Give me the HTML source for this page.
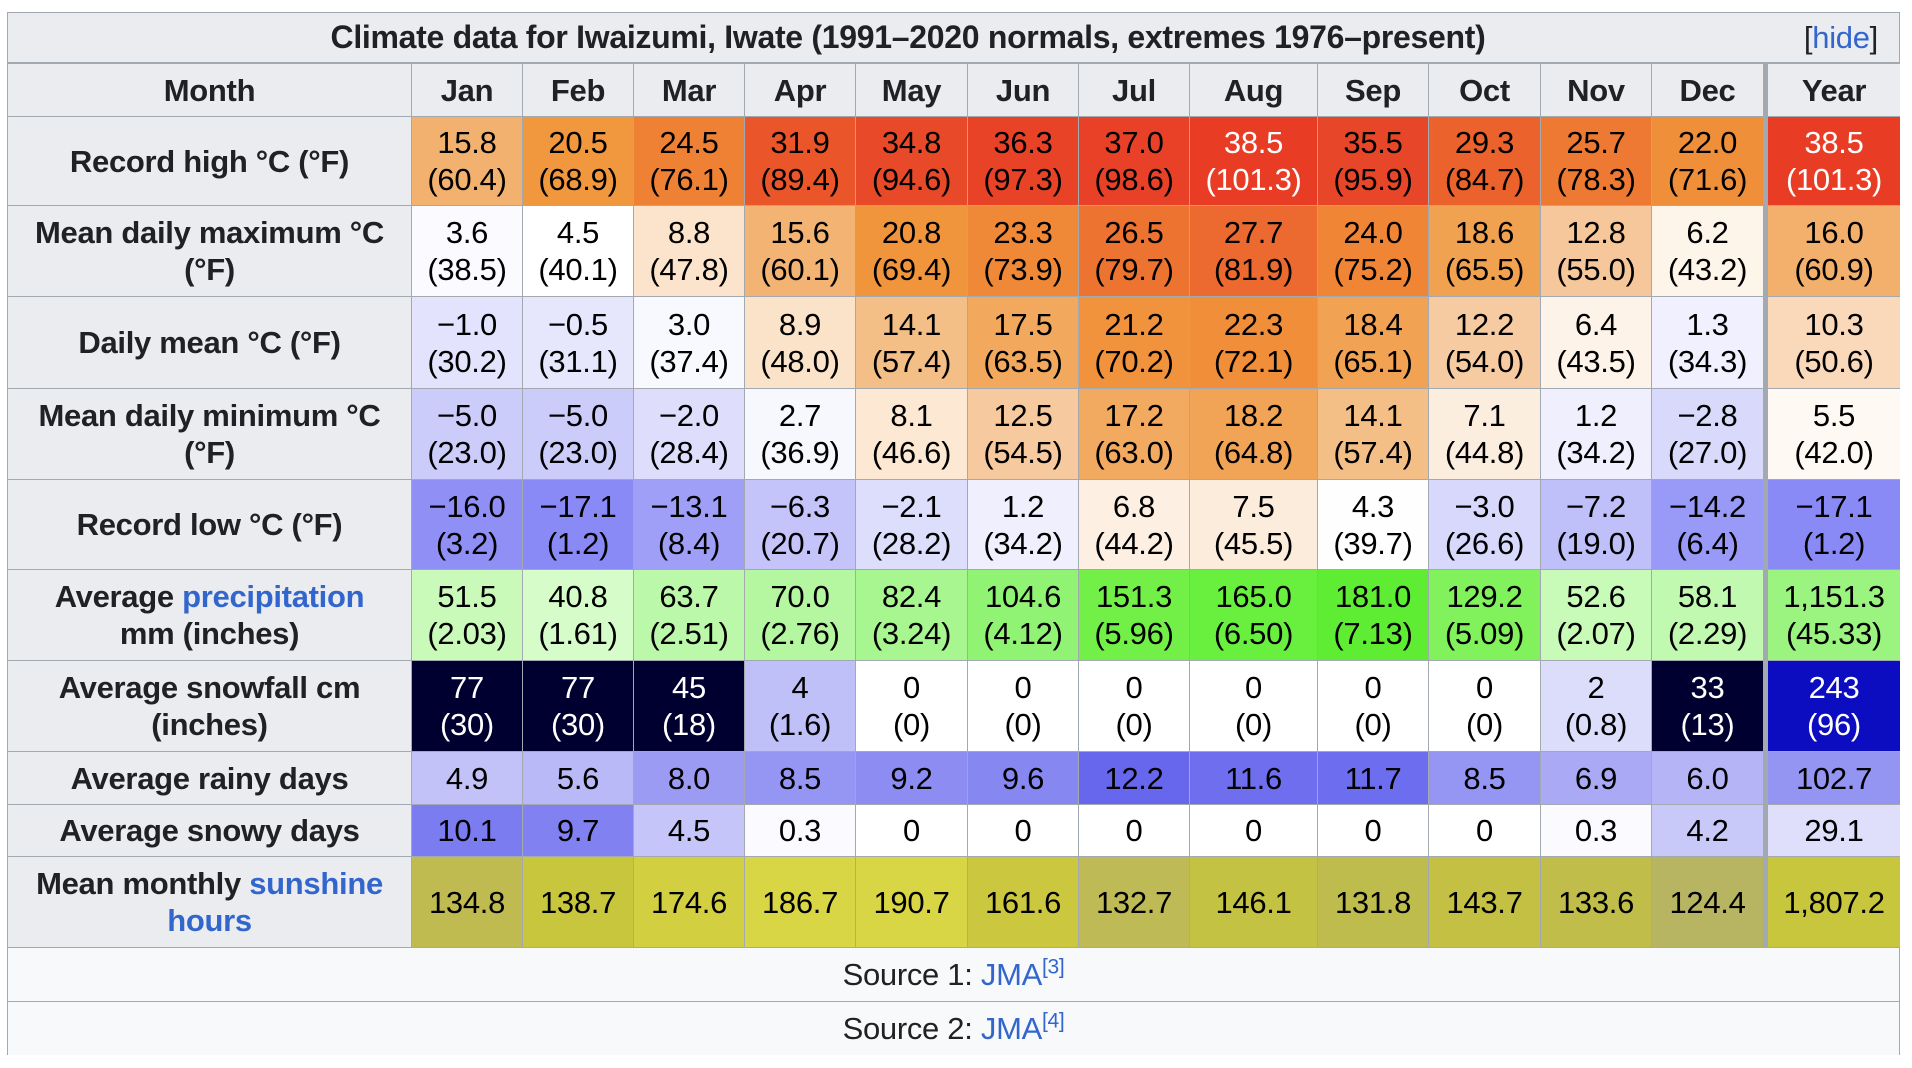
<!DOCTYPE html>
<html><head><meta charset="utf-8">
<style>
html,body{margin:0;padding:0;background:#fff;width:1912px;height:1068px;overflow:hidden;font-family:"Liberation Sans",Arial,sans-serif;}
#wrap{position:absolute;left:0;top:0;width:1912px;height:1068px;}
.c{position:absolute;box-sizing:border-box;display:flex;align-items:center;justify-content:center;text-align:center;font-size:31px;line-height:37px;color:#000;letter-spacing:-0.3px;}
.c > span{display:block;}
.h{background:#eaecf0;color:#202122;font-weight:bold;}
a{color:#3366cc;text-decoration:none;}
sup{font-size:21px;line-height:0;vertical-align:super;}
</style></head><body>
<div id="wrap">
  <div id="frame" style="position:absolute;left:7px;top:12px;width:1893px;height:1043px;background:#a2a9b1;"></div>
  <div class="c h" style="left:8px;top:13px;width:1891px;height:49px;"></div>
  <div class="c" style="left:200px;top:13px;width:1416px;height:49px;font-weight:bold;color:#202122;font-size:32px;"><span>Climate data for Iwaizumi, Iwate (1991–2020 normals, extremes 1976–present)</span></div>
  <div class="c" style="left:1780px;top:13px;width:98px;height:49px;color:#202122;justify-content:flex-end;"><span>[<a>hide</a>]</span></div>
</div>
<script>
const months = ["Jan","Feb","Mar","Apr","May","Jun","Jul","Aug","Sep","Oct","Nov","Dec","Year"];
const recordHigh = [15.8,20.5,24.5,31.9,34.8,36.3,37.0,38.5,35.5,29.3,25.7,22.0,38.5];
const recordHighF = ["60.4","68.9","76.1","89.4","94.6","97.3","98.6","101.3","95.9","84.7","78.3","71.6","101.3"];
const meanMax = [3.6,4.5,8.8,15.6,20.8,23.3,26.5,27.7,24.0,18.6,12.8,6.2,16.0];
const meanMaxF = ["38.5","40.1","47.8","60.1","69.4","73.9","79.7","81.9","75.2","65.5","55.0","43.2","60.9"];
const dailyMean = [-1.0,-0.5,3.0,8.9,14.1,17.5,21.2,22.3,18.4,12.2,6.4,1.3,10.3];
const dailyMeanF = ["30.2","31.1","37.4","48.0","57.4","63.5","70.2","72.1","65.1","54.0","43.5","34.3","50.6"];
const meanMin = [-5.0,-5.0,-2.0,2.7,8.1,12.5,17.2,18.2,14.1,7.1,1.2,-2.8,5.5];
const meanMinF = ["23.0","23.0","28.4","36.9","46.6","54.5","63.0","64.8","57.4","44.8","34.2","27.0","42.0"];
const recordLow = [-16.0,-17.1,-13.1,-6.3,-2.1,1.2,6.8,7.5,4.3,-3.0,-7.2,-14.2,-17.1];
const recordLowF = ["3.2","1.2","8.4","20.7","28.2","34.2","44.2","45.5","39.7","26.6","19.0","6.4","1.2"];
const precip = [51.5,40.8,63.7,70.0,82.4,104.6,151.3,165.0,181.0,129.2,52.6,58.1,1151.3];
const snowfall = [77,77,45,4,0,0,0,0,0,0,2,33,243];
const rainyDays = [4.9,5.6,8.0,8.5,9.2,9.6,12.2,11.6,11.7,8.5,6.9,6.0,102.7];
const snowyDays = [10.1,9.7,4.5,0.3,0,0,0,0,0,0,0.3,4.2,29.1];
const sunshine = [134.8,138.7,174.6,186.7,190.7,161.6,132.7,146.1,131.8,143.7,133.6,124.4,1807.2];
const monthDays = [31,28,31,30,31,30,31,31,30,31,30,31,365];

const colX = [7,411,522,633,744,855,967,1078,1189,1317,1428,1540,1651,1763,1900];
const rowY = [63,116,205,296,388,479,569,660,751,804,856,947,1001,1055];

function lerpStops(stops, v){
  if(v<=stops[0][0]) return stops[0][1];
  for(let i=1;i<stops.length;i++){
    if(v<=stops[i][0]){
      const a=stops[i-1],b=stops[i],t=(v-a[0])/(b[0]-a[0]);
      return a[1].map((x,k)=>Math.round(x+(b[1][k]-x)*t));
    }
  }
  return stops[stops.length-1][1];
}
const tempStops=[[-17,[138,138,246]],[-14,[154,154,247]],[-7,[192,192,250]],[-5,[204,204,251]],[-2,[222,222,252]],[1.3,[240,240,254]],[4.5,[255,255,255]],[6.2,[253,244,234]],[8.8,[251,228,203]],[12.8,[246,199,154]],[16,[242,176,108]],[20.5,[241,151,62]],[24,[239,133,53]],[27.7,[236,106,47]],[31.9,[234,86,42]],[35.5,[232,70,40]],[38.5,[232,60,37]]];
const precipStops=[[40,[215,252,202]],[70,[180,247,160]],[105,[145,243,115]],[151,[114,240,72]],[181,[94,237,51]]];
const snowStops=[[0,[255,255,255]],[2,[220,220,251]],[4,[192,192,248]],[20.25,[12,12,192]],[33,[0,0,48]]];
const sunStops=[[4.0,[184,181,99]],[4.3,[190,186,84]],[4.5,[193,190,72]],[4.95,[200,198,60]],[5.4,[203,199,62]],[5.6,[210,208,64]],[6.2,[216,214,68]]];
const rgb=c=>`rgb(${c[0]},${c[1]},${c[2]})`;
const fmt1=v=>(v<0?"\u2212":"")+Math.abs(v).toFixed(1);
const fmtComma=v=>v.toLocaleString("en-US",{minimumFractionDigits:1,maximumFractionDigits:1});
const snowIn=cm=>{const i=cm/2.54; if(cm===0) return "0"; return i<10?i.toFixed(1):String(Math.round(i));};

const wrap=document.getElementById('wrap');
function cell(r,c,html,bg,color,name,extraStyle){
  const d=document.createElement('div');
  d.className='c'+(bg?'':' h');
  let x0=colX[c]+1, x1=colX[c+1];
  if(c===13) x0=colX[c]+5;
  const y0=rowY[r]+1, y1=rowY[r+1];
  d.style.left=x0+'px';d.style.top=y0+'px';
  d.style.width=(x1-x0)+'px';d.style.height=(y1-y0)+'px';
  if(bg) d.style.background=bg;
  if(color) d.style.color=color;
  if(extraStyle) d.style.cssText+=extraStyle;
  d.innerHTML='<span>'+html+'</span>';
  
  
  wrap.appendChild(d);
  return d;
}
cell(0,0,"Month",null,null,"month-header");
months.forEach((m,i)=>cell(0,i+1,m,null,null,"header-"+m.toLowerCase()));

const labels=["Record high °C (°F)","Mean daily maximum °C<br>(°F)","Daily mean °C (°F)","Mean daily minimum °C<br>(°F)","Record low °C (°F)","Average <a>precipitation</a><br>mm (inches)","Average snowfall cm<br>(inches)","Average rainy days","Average snowy days","Mean monthly <a>sunshine</a><br><a>hours</a>"];
const labelNames=["record-high-label","mean-max-label","daily-mean-label","mean-min-label","record-low-label","precipitation-label","snowfall-label","rainy-days-label","snowy-days-label","sunshine-label"];
labels.forEach((l,i)=>cell(i+1,0,l,null,null,labelNames[i],"padding:0 4px;"));

const tempRows=[[recordHigh,recordHighF,"record-high"],[meanMax,meanMaxF,"mean-max"],[dailyMean,dailyMeanF,"daily-mean"],[meanMin,meanMinF,"mean-min"],[recordLow,recordLowF,"record-low"]];
tempRows.forEach(([arr,farr,nm],ri)=>{
  arr.forEach((v,i)=>{
    const col=lerpStops(tempStops,v);
    const txt=v>=38?"#fff":"#000";
    cell(ri+1,i+1,fmt1(v)+"<br>("+farr[i]+")",rgb(col),txt,nm+"-"+months[i].toLowerCase());
  });
});
precip.forEach((v,i)=>{
  const cv=i===12?v/12:v;
  const txt=(i===12?fmtComma(v):v.toFixed(1))+"<br>("+(v/25.4).toFixed(2)+")";
  cell(6,i+1,txt,rgb(lerpStops(precipStops,cv)),"#000","precipitation-"+months[i].toLowerCase());
});
snowfall.forEach((v,i)=>{
  const cv=i===12?v/12:v;
  const col=lerpStops(snowStops,cv);
  const txt=cv>10?"#fff":"#000";
  cell(7,i+1,v+"<br>("+snowIn(v)+")",rgb(col),txt,"snowfall-"+months[i].toLowerCase());
});
rainyDays.forEach((v,i)=>{
  const d=i===12?v/12:v;
  const g=Math.round(255-12.5*d), b=Math.round(255-1.4*d);
  cell(8,i+1,v.toFixed(1),`rgb(${g},${g},${b})`,"#000","rainy-days-"+months[i].toLowerCase());
});
snowyDays.forEach((v,i)=>{
  const d=i===12?v/12:v;
  const g=Math.round(255-13*d), b=Math.round(255-1.4*d);
  cell(9,i+1,v===0?"0":v.toFixed(1),`rgb(${g},${g},${b})`,"#000","snowy-days-"+months[i].toLowerCase());
});
sunshine.forEach((v,i)=>{
  const hpd=v/monthDays[i];
  cell(10,i+1,i===12?fmtComma(v):v.toFixed(1),rgb(lerpStops(sunStops,hpd)),"#000","sunshine-"+months[i].toLowerCase());
});
function srcRow(r,html,name){
  const d=document.createElement('div');
  d.className='c';
  d.style.left='8px';d.style.top=(rowY[r]+1)+'px';
  d.style.width='1891px';d.style.height=(rowY[r+1]-rowY[r]-1)+'px';
  d.style.background='#f8f9fa';d.style.color='#202122';
  d.innerHTML='<span>'+html+'</span>';
  
  
  wrap.appendChild(d);
}
srcRow(11,'Source 1: <a>JMA</a><sup><a>[3]</a></sup>',"source-1");
srcRow(12,'Source 2: <a>JMA</a><sup><a>[4]</a></sup>',"source-2");
</script>
</body></html>
